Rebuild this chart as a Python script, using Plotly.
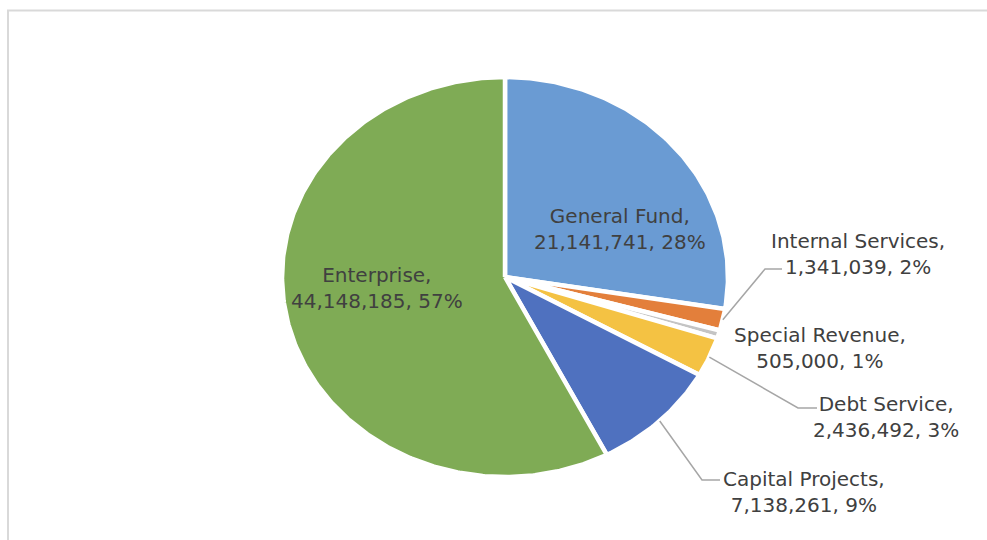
import math
import plotly.graph_objects as go

# Fund totals
funds = ["General Fund", "Internal Services", "Special Revenue",
         "Debt Service", "Capital Projects", "Enterprise"]
amounts = [21141741, 1341039, 505000, 2436492, 7138261, 44148185]
slice_colors = ["#6A9BD3", "#E37F3B", "#C4C4C4", "#F4C243", "#4F71BF", "#7FAB55"]

# label block centres (page pixels) and leader-line elbows
label_pos = [(620, 229), (858, 254), (820, 348), (886, 417), (804, 492), (377, 288)]
leader_elbow = [None, (765, 269), None, (798, 408), (702, 480), None]
leader_end = [None, (782, 269), None, (817, 408), (720, 480), None]

W, H = 987, 540
CX, CY, RX, RY = 505, 277, 223, 200

total = sum(amounts)
shares = [a / total * 100 for a in amounts]

# whole-number percentages that add up to 100 (largest remainder)
floors = [int(math.floor(s)) for s in shares]
left = 100 - sum(floors)
order = sorted(range(len(shares)), key=lambda i: shares[i] - floors[i], reverse=True)
pcts = floors[:]
for i in order[:left]:
    pcts[i] += 1


def pt(theta_deg, frac=1.0):
    t = math.radians(theta_deg)
    return CX + frac * RX * math.sin(t), CY - frac * RY * math.cos(t)


fig = go.Figure()

start = 0.0
mids = []
for name, amt, col in zip(funds, amounts, slice_colors):
    sweep = amt / total * 360.0
    end = start + sweep
    n = max(3, int(sweep / 0.5) + 1)
    xs, ys = [CX], [CY]
    for k in range(n + 1):
        x, y = pt(start + sweep * k / n)
        xs.append(x)
        ys.append(y)
    xs.append(CX)
    ys.append(CY)
    fig.add_trace(go.Scatter(
        x=xs, y=ys, mode="lines", fill="toself", fillcolor=col,
        line=dict(color="white", width=4.5), name=name, hoverinfo="name",
        showlegend=False))
    mids.append(start + sweep / 2)
    start = end

# leader lines from slice edges to their labels
for i in range(len(funds)):
    if leader_elbow[i] is None:
        continue
    sx, sy = pt(mids[i])
    ex, ey = leader_elbow[i]
    fx, fy = leader_end[i]
    fig.add_trace(go.Scatter(
        x=[sx, ex, fx], y=[sy, ey, fy], mode="lines",
        line=dict(color="#A6A6A6", width=1.5), hoverinfo="skip",
        showlegend=False))

for i, name in enumerate(funds):
    lx, ly = label_pos[i]
    fig.add_annotation(
        x=lx, y=ly, xref="x", yref="y", showarrow=False,
        text=f"{name},<br>{amounts[i]:,}, {pcts[i]}%",
        xanchor="center", yanchor="middle", align="center",
        font=dict(family="DejaVu Sans", size=20, color="#404040"))

# chart-area frame
fig.add_shape(type="line", x0=7, x1=W, y0=10.5, y1=10.5, xref="x", yref="y",
              line=dict(color="#D9D9D9", width=2))
fig.add_shape(type="line", x0=8, x1=8, y0=10, y1=H, xref="x", yref="y",
              line=dict(color="#D9D9D9", width=2))

fig.update_layout(
    width=W, height=H, autosize=False,
    margin=dict(l=0, r=0, t=0, b=0),
    paper_bgcolor="white", plot_bgcolor="white",
    xaxis=dict(range=[0, W], visible=False, fixedrange=True),
    yaxis=dict(range=[H, 0], visible=False, fixedrange=True),
)

fig.write_html("out.html")
